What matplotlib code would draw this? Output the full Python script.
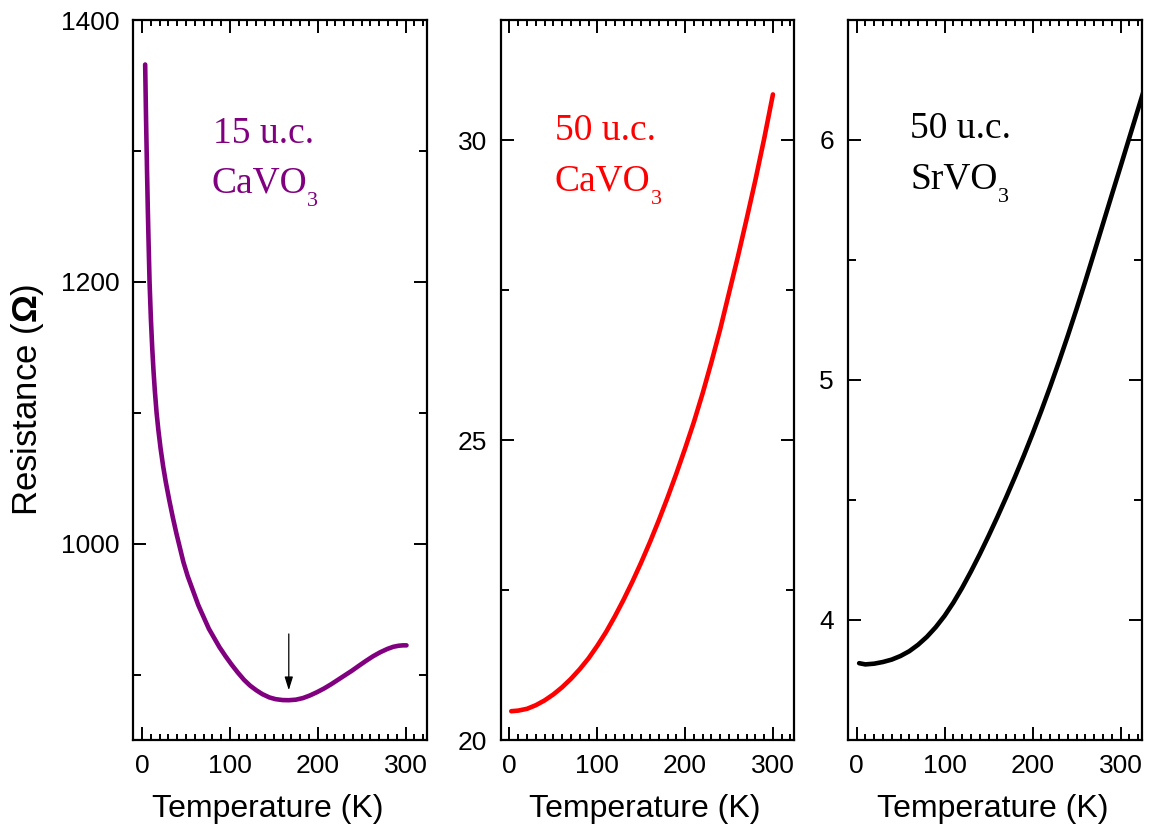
import matplotlib
matplotlib.use("Agg")
import matplotlib.pyplot as plt
from matplotlib.ticker import MultipleLocator

plt.rcParams['font.family'] = ['Liberation Sans', 'DejaVu Sans']
plt.rcParams['mathtext.fontset'] = 'custom'
plt.rcParams['mathtext.rm'] = 'Liberation Sans'
plt.rcParams['mathtext.bf'] = 'Liberation Sans:bold'

# 15 u.c. CaVO3 film
t_cvo15 = [3.5, 4.5, 5.5, 6.5, 7.5, 8.5, 10, 11.5, 13, 14.5, 16.5, 18.5, 21, 24, 27,
           31, 35, 39, 43, 47, 52, 58, 64, 70, 76, 82, 88, 95, 102, 109, 116, 123,
           130, 137, 145, 152, 160, 167, 175, 183, 191, 199, 207, 215, 223, 231, 239,
           247, 255, 263, 271, 279, 286, 292, 297, 301]
r_cvo15 = [1366, 1325, 1289, 1256, 1227, 1200, 1172, 1150, 1132, 1117, 1100, 1087,
           1073, 1059, 1047, 1033, 1020, 1008, 997, 986, 975, 964, 953, 944, 935, 928,
           921, 914, 907.5, 901.5, 896, 891.5, 888, 885, 882.5, 881.2, 880.5, 880.4,
           880.8, 882, 884, 886.5, 889.3, 892.5, 896, 899.5, 903, 906.8, 910.5, 914,
           917, 919.5, 921.2, 922, 922.3, 922.3]

# 50 u.c. CaVO3 film
t_cvo50 = [2, 10, 20, 30, 40, 50, 60, 70, 80, 90, 100, 110, 120, 130, 140, 150, 160,
           170, 180, 190, 200, 210, 220, 230, 240, 250, 260, 270, 280, 290, 300]
r_cvo50 = [20.48, 20.49, 20.52, 20.58, 20.66, 20.76, 20.88, 21.02, 21.18, 21.36,
           21.57, 21.8, 22.06, 22.34, 22.64, 22.96, 23.3, 23.66, 24.04, 24.44, 24.86,
           25.3, 25.78, 26.3, 26.85, 27.45, 28.05, 28.68, 29.33, 30.02, 30.76]

# 50 u.c. SrVO3 film
t_svo50 = [3, 10, 20, 30, 40, 50, 60, 70, 80, 90, 100, 110, 120, 130, 140, 150, 160,
           170, 180, 190, 200, 210, 220, 230, 240, 250, 260, 270, 280, 290, 300, 310,
           320, 330]
r_svo50 = [3.82, 3.815, 3.818, 3.825, 3.835, 3.85, 3.87, 3.897, 3.93, 3.97, 4.017,
           4.072, 4.134, 4.202, 4.274, 4.35, 4.429, 4.511, 4.596, 4.684, 4.776, 4.872,
           4.972, 5.076, 5.184, 5.296, 5.412, 5.531, 5.651, 5.771, 5.89, 6.01, 6.13,
           6.25]

t_min = 167  # temperature of the resistance minimum

x_ticks = [0, 100, 200, 300]

fig = plt.figure(figsize=(11.49, 8.33), dpi=100)

W, H = 1149, 833
def rect(left, right, top=20, bottom=740):
    return [left / W, 1 - bottom / H, (right - left) / W, (bottom - top) / H]

ax1 = fig.add_axes(rect(133.3, 426.7))
ax2 = fig.add_axes(rect(500.7, 794.0))
ax3 = fig.add_axes(rect(847.7, 1141.7))

panels = [
    (ax1, t_cvo15, r_cvo15, '#800080', (850, 1400), 200, 100, ('15 u.c.', 'CaVO')),
    (ax2, t_cvo50, r_cvo50, '#ff0000', (20, 32), 5, 2.5, ('50 u.c.', 'CaVO')),
    (ax3, t_svo50, r_svo50, '#000000', (3.5, 6.5), 1, 0.5, ('50 u.c.', 'SrVO')),
]
text_pos = [((0.272, 0.829), (0.265, 0.761)),
            ((0.185, 0.833), (0.183, 0.763)),
            ((0.212, 0.836), (0.212, 0.766))]
xlabel_x = [0.457, 0.49, 0.494]

for (ax, t, r, c, ylim, major, minor, labels), pos, lx in zip(panels, text_pos, xlabel_x):
    ax.plot(t, r, color=c, lw=3.3, solid_capstyle='round')
    ax.set_xlim(-10, 324)
    ax.set_ylim(*ylim)
    ax.set_xticks(x_ticks)
    ax.xaxis.set_minor_locator(MultipleLocator(10))
    ax.yaxis.set_major_locator(MultipleLocator(major))
    ax.yaxis.set_minor_locator(MultipleLocator(minor))
    ax.tick_params(which='both', direction='in', top=True, right=True, width=1.4)
    ax.tick_params(which='major', length=9.5, labelsize=19, pad=10)
    ax.tick_params(axis='x', which='minor', length=4.5)
    ax.tick_params(axis='y', which='minor', length=6)
    for s in ax.spines.values():
        s.set_linewidth(1.6)
    ax.set_xlabel('Temperature (K)', fontsize=23)
    ax.xaxis.set_label_coords(lx, -0.075)

    (x1, y1), (x2, y2) = pos
    ax.text(x1, y1, labels[0], transform=ax.transAxes, color=c, fontsize=27,
            family='Liberation Serif', ha='left', va='baseline')
    formula = ax.text(x2, y2, labels[1], transform=ax.transAxes, color=c,
                      fontsize=27, family='Liberation Serif', ha='left',
                      va='baseline')
    ax.annotate('3', xy=(1, 0), xycoords=formula, xytext=(0.5, -4),
                textcoords='offset points', color=c, fontsize=16,
                family='Liberation Serif', ha='left', va='baseline')

ax1.set_ylabel(r'Resistance ($\mathbf{\Omega}$)', fontsize=25)
ax1.yaxis.set_label_coords(-0.298, 0.472)

ax1.annotate('', xy=(t_min, 888), xytext=(t_min, 931),
             arrowprops=dict(arrowstyle='-|>,head_length=0.8,head_width=0.25',
                             color='black', lw=0.9, shrinkA=0, shrinkB=0))

fig.savefig('out.png', dpi=100)
